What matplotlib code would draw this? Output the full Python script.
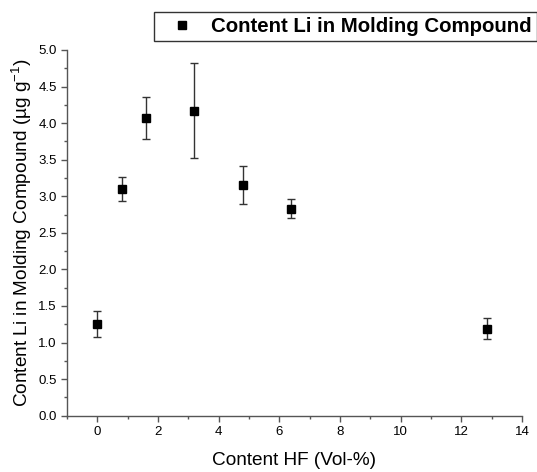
import numpy as np
import matplotlib.pyplot as plt
from matplotlib.ticker import MultipleLocator
from matplotlib.lines import Line2D

plt.rcParams['font.family'] = ['Liberation Sans', 'DejaVu Sans']
plt.rcParams['mathtext.fontset'] = 'custom'
plt.rcParams['mathtext.rm'] = 'Liberation Sans'

# Data
hf_content = [0.0, 0.8, 1.6, 3.2, 4.8, 6.4, 12.85]
li_content = [1.25, 3.10, 4.07, 4.17, 3.16, 2.83, 1.19]
li_error = [0.18, 0.17, 0.29, 0.65, 0.26, 0.13, 0.14]

fig = plt.figure(figsize=(5.37, 4.72), dpi=100)
ax = fig.add_axes([0.1248, 0.1193, 0.8472, 0.7748])

ax.errorbar(hf_content, li_content, yerr=li_error, fmt='s', color='black',
            ecolor='#333333', elinewidth=1, capsize=3, capthick=1,
            markersize=6)

ax.set_xlim(-1, 14)
ax.set_ylim(0, 5)
ax.xaxis.set_major_locator(MultipleLocator(2))
ax.xaxis.set_minor_locator(MultipleLocator(1))
ax.yaxis.set_major_locator(MultipleLocator(0.5))
ax.yaxis.set_minor_locator(MultipleLocator(0.25))

for side in ['top', 'right']:
    ax.spines[side].set_visible(False)
for side in ['left', 'bottom']:
    ax.spines[side].set_color('#555555')
    ax.spines[side].set_linewidth(1)

ax.tick_params(which='major', direction='out', length=4, width=1, color='#555555',
               labelsize=9.5)
ax.tick_params(which='minor', direction='out', length=2.5, width=1, color='#555555')
ax.yaxis.set_major_formatter(plt.FormatStrFormatter('%.1f'))

ax.set_xlabel('Content HF (Vol-%)', fontsize=13.7, labelpad=10)
ax.set_ylabel(r'Content Li in Molding Compound (µg g$^{\mathregular{-1}}$)',
              fontsize=13.7, labelpad=3)

handle = Line2D([], [], marker='s', color='black', linestyle='none', markersize=6)
leg = ax.legend([handle], ['Content Li in Molding Compound'],
                loc='upper left', bbox_to_anchor=(154 / 537, 1 - 12 / 472),
                bbox_transform=fig.transFigure, frameon=True, fancybox=False,
                prop={'weight': 'bold', 'size': 14.7}, handletextpad=0.35,
                borderpad=0.25, handlelength=2.2, borderaxespad=0)
leg.get_frame().set_edgecolor('black')
leg.get_frame().set_linewidth(1)

fig.savefig('out.png', dpi=100)
